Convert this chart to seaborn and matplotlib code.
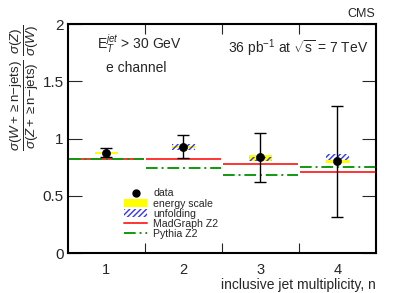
import numpy as np
import pandas as pd
import matplotlib
matplotlib.use("Agg")
import matplotlib.pyplot as plt
import seaborn as sns
from matplotlib.patches import Patch, Rectangle
from matplotlib.lines import Line2D

# inclusive jet multiplicity bins
njets = [1, 2, 3, 4]
data_val = [0.876, 0.928, 0.840, 0.800]
err_up = [0.045, 0.100, 0.210, 0.486]
err_dn = [0.040, 0.100, 0.220, 0.483]
# systematic boxes (low, high)
escale_lo = [0.868, 0.918, 0.800, 0.785]
escale_hi = [0.884, 0.938, 0.852, 0.812]
unfold_lo = [0.876, 0.900, 0.800, 0.812]
unfold_hi = [0.876, 0.955, 0.840, 0.862]
madgraph = [0.818, 0.818, 0.780, 0.710]
pythia = [0.818, 0.742, 0.684, 0.754]

df = pd.DataFrame({"n": njets, "ratio": data_val})

sns.set_style("ticks")
plt.rcParams['font.family'] = ['Liberation Sans', 'DejaVu Sans']
plt.rcParams['mathtext.fontset'] = 'custom'
plt.rcParams['mathtext.rm'] = 'Liberation Sans'
plt.rcParams['mathtext.it'] = 'Liberation Sans:italic'
plt.rcParams['mathtext.sf'] = 'Liberation Sans'

fig = plt.figure(figsize=(3.99, 2.93), dpi=100)
ax = fig.add_axes([0.170, 0.1365, 0.772, 0.7815])

hw = 0.15
for i, n in enumerate(njets):
    ax.add_patch(Rectangle((n - hw, escale_lo[i]), 2 * hw, escale_hi[i] - escale_lo[i],
                           facecolor='#ffff00', edgecolor='none', zorder=2))
    if unfold_hi[i] > unfold_lo[i]:
        ax.add_patch(Rectangle((n - hw, unfold_lo[i]), 2 * hw, unfold_hi[i] - unfold_lo[i],
                               facecolor='none', edgecolor='#3333ff', hatch='//////',
                               linewidth=0, zorder=3))

# MC predictions as per-bin horizontal segments
nn = np.array(njets)
ax.hlines(madgraph, nn - 0.49, nn + 0.49, color='#ff3333', lw=1.4, zorder=4)
for i, n in enumerate(njets):
    ax.plot([n - 0.49, n + 0.49], [pythia[i], pythia[i]], color='#119911', lw=1.4,
            dashes=(6, 2, 1, 2), zorder=5)

ax.errorbar(njets, data_val, yerr=[err_dn, err_up], fmt='none', ecolor='black',
            elinewidth=1.0, capsize=4, capthick=1.0, zorder=6)
sns.scatterplot(data=df, x="n", y="ratio", ax=ax, color='black', s=34,
                edgecolor='black', zorder=7, legend=False)

ax.set_xlim(0.5, 4.5)
ax.set_ylim(0, 2)
ax.set_xticks([1.5, 2.5, 3.5])
ax.set_xticklabels([])
ax.set_xticks(njets, minor=True)
ax.set_xticklabels([str(n) for n in njets], minor=True, fontsize=10.5)
ax.tick_params(axis='x', which='major', direction='in', length=7, width=0.8,
               top=True, bottom=True)
ax.tick_params(axis='x', which='minor', length=0, pad=7)
ax.set_yticks([0, 0.5, 1, 1.5, 2])
ax.set_yticklabels(['0', '0.5', '1', '1.5', '2'], fontsize=11)
ax.tick_params(axis='y', direction='in', length=10, width=0.8, left=True, right=True, pad=3)
for s in ax.spines.values():
    s.set_linewidth(1.5)
    s.set_color('black')

ax.set_xlabel('inclusive jet multiplicity, n', fontsize=10, loc='right', labelpad=1)
ax.set_ylabel(r'$\dfrac{\sigma(W + \geq \mathrm{n}\mathrm{-jets})}{\sigma(Z + \geq \mathrm{n}\mathrm{-jets})}\ \dfrac{\sigma(Z)}{\sigma(W)}$',
              fontsize=9.6, labelpad=1, loc='top')

ax.text(0.88, 1.82, r'E$_T^{jet}$ > 30 GeV', fontsize=10, ha='left', va='center')
ax.text(1.0, 1.62, 'e channel', fontsize=10, ha='left', va='center')
ax.text(0.975, 0.895, r'36 pb$^{-1}$ at $\sqrt{\mathrm{s}}$ = 7 TeV', transform=ax.transAxes,
        fontsize=10, ha='right', va='center')
ax.text(0.997, 1.045, 'CMS', transform=ax.transAxes, fontsize=9, ha='right', va='center')

handles = [
    Line2D([], [], marker='o', color='black', linestyle='none', markersize=5),
    Patch(facecolor='#ffff00', edgecolor='none'),
    Patch(facecolor='white', edgecolor='#3333ff', hatch='//////', linewidth=0),
    Line2D([], [], color='#ff3333', lw=1.4),
    Line2D([], [], color='#119911', lw=1.4, dashes=(6, 2, 1, 2)),
]
labels = ['data', 'energy scale', 'unfolding', 'MadGraph Z2', 'Pythia Z2']
ax.legend(handles, labels, loc='upper left', bbox_to_anchor=(0.165, 0.305), frameon=False,
          fontsize=7.6, handlelength=2.2, handleheight=0.8, labelspacing=0.02,
          borderpad=0, handletextpad=0.6)

fig.savefig('out.png', dpi=100)
